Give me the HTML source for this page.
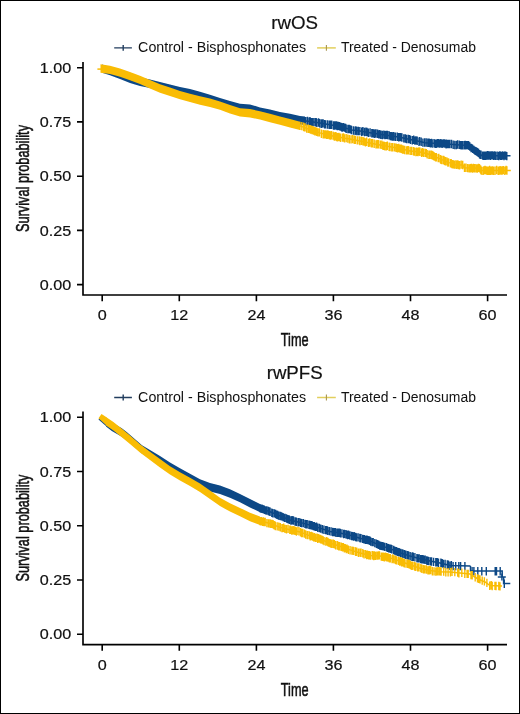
<!DOCTYPE html>
<html><head><meta charset="utf-8"><style>
html,body{margin:0;padding:0;background:#fff;}
svg{display:block;will-change:transform;}
text{font-family:"Liberation Sans",sans-serif;fill:#111;}
.tk{font-size:14.7px;stroke:#111;stroke-width:0.2px;}
.ax{font-size:18.6px;stroke:#111;stroke-width:0.55px;}
.ti{font-size:18.7px;stroke:#111;stroke-width:0.2px;}
.lg{font-size:14.25px;}
.lg2{font-size:13.95px;}
</style></head><body>
<svg width="520" height="714" viewBox="0 0 520 714">
<rect x="0" y="0" width="520" height="714" fill="#fff"/>
<path d="M102 64.4 L110 66.9 L120 70.6 L130 74.6 L140 77.6 L150 79.5 L160 81.9 L170 84.5 L180 87.1 L190 88.9 L200 91.8 L210 94.7 L220 98 L230 101.1 L240 103.7 L250 104.4 L260 107.4 L270 109.6 L280 111.9 L290 113.7 L300 116 L305 116.6 L305 125 L300 124.4 L290 122.1 L280 120.3 L270 118 L260 115.8 L250 112.8 L240 112.1 L230 109.5 L220 106.4 L210 103.1 L200 100.2 L190 97.3 L180 95.5 L170 92.9 L160 90.3 L150 87.9 L140 86 L130 83 L120 79 L110 75.3 L102 72.8Z" fill="#0c4886"/>
<path d="M304 120.7 L310 121.5 L320 123.1 L330 124.8 L339 126.2 L340 126.5 L350 129.4 L352 130 L360 131.1 L370 132.7 L375 133.5 L380 134.3 L390 135.8 L400 137.3 L410 139.4 L420 141.6 L425 142.7 L430 143.1 L440 143.6 L448 144 L450 144.2 L460 145 L468 145.3 L482 155.7 L510.5 155.7" stroke="#0c4886" stroke-width="1.5" fill="none"/>
<path d="M304.3 117h1.4v8.4h-1.4zM305.1 117.1h1.4v8.4h-1.4zM306.8 116.8h1.4v8.4h-1.4zM308.4 117.5h1.4v8.4h-1.4zM309.3 117.1h1.4v8.4h-1.4zM310.5 117.9h1.4v8.4h-1.4zM311.7 117.9h1.4v8.4h-1.4zM313.2 117.9h1.4v8.4h-1.4zM314.8 118h1.4v8.4h-1.4zM315.5 117.9h1.4v8.4h-1.4zM316.2 118.7h1.4v8.4h-1.4zM317.9 118.3h1.4v8.4h-1.4zM319 119.1h1.4v8.4h-1.4zM320.6 119.5h1.4v8.4h-1.4zM321.2 119.3h1.4v8.4h-1.4zM322.4 119.2h1.4v8.4h-1.4zM323.9 120h1.4v8.4h-1.4zM324.8 120.2h1.4v8.4h-1.4zM326.7 120.3h1.4v8.4h-1.4zM328.4 120.5h1.4v8.4h-1.4zM329.1 120.5h1.4v8.4h-1.4zM329.7 120.5h1.4v8.4h-1.4zM331 120.6h1.4v8.4h-1.4zM332.8 121.3h1.4v8.4h-1.4zM333.9 121.3h1.4v8.4h-1.4zM334.8 121.2h1.4v8.4h-1.4zM336 121.3h1.4v8.4h-1.4zM336.6 121.9h1.4v8.4h-1.4zM337.5 121.7h1.4v8.4h-1.4zM338.7 122.1h1.4v8.4h-1.4zM340 122.4h1.4v8.4h-1.4zM340.9 123.1h1.4v8.4h-1.4zM341.8 123.3h1.4v8.4h-1.4zM342.7 122.9h1.4v8.4h-1.4zM343.9 123.4h1.4v8.4h-1.4zM344.9 123.8h1.4v8.4h-1.4zM345.5 124.5h1.4v8.4h-1.4zM347.2 124.8h1.4v8.4h-1.4zM348.5 124.8h1.4v8.4h-1.4zM349.9 125.2h1.4v8.4h-1.4zM350.8 125.8h1.4v8.4h-1.4zM352.7 126.3h1.4v8.4h-1.4zM354.4 126.6h1.4v8.4h-1.4zM355.1 126.2h1.4v8.4h-1.4zM356.2 126.8h1.4v8.4h-1.4zM357.7 126.8h1.4v8.4h-1.4zM359.2 126.9h1.4v8.4h-1.4zM361 127.6h1.4v8.4h-1.4zM362.2 127.1h1.4v8.4h-1.4zM363.8 127.8h1.4v8.4h-1.4zM365.3 127.5h1.4v8.4h-1.4zM366.3 127.8h1.4v8.4h-1.4zM367.7 128.6h1.4v8.4h-1.4zM369.4 128.3h1.4v8.4h-1.4zM371.1 129h1.4v8.4h-1.4zM372.3 129.1h1.4v8.4h-1.4zM373.7 129.5h1.4v8.4h-1.4zM374.4 129.2h1.4v8.4h-1.4zM375.3 129.3h1.4v8.4h-1.4zM376.9 129.6h1.4v8.4h-1.4zM378.1 130.2h1.4v8.4h-1.4zM378.9 130.1h1.4v8.4h-1.4zM380.2 130.6h1.4v8.4h-1.4zM381.7 130.8h1.4v8.4h-1.4zM383.2 130.4h1.4v8.4h-1.4zM384.3 130.9h1.4v8.4h-1.4zM385.4 130.7h1.4v8.4h-1.4zM386.7 130.8h1.4v8.4h-1.4zM388.3 131.1h1.4v8.4h-1.4zM389.6 131.9h1.4v8.4h-1.4zM390.7 132h1.4v8.4h-1.4zM391.9 132.3h1.4v8.4h-1.4zM392.6 132h1.4v8.4h-1.4zM393.3 132.3h1.4v8.4h-1.4zM394.8 132.6h1.4v8.4h-1.4zM396.6 132.6h1.4v8.4h-1.4zM398 133h1.4v8.4h-1.4zM399.1 132.9h1.4v8.4h-1.4zM400 132.9h1.4v8.4h-1.4zM401.2 133.3h1.4v8.4h-1.4zM403.1 134.2h1.4v8.4h-1.4zM404.6 134.3h1.4v8.4h-1.4zM405.9 134.8h1.4v8.4h-1.4zM407.6 134.8h1.4v8.4h-1.4zM408.6 134.9h1.4v8.4h-1.4zM409.8 135.5h1.4v8.4h-1.4zM411.6 136h1.4v8.4h-1.4zM413 135.6h1.4v8.4h-1.4zM414.2 136.4h1.4v8.4h-1.4zM415.2 136.2h1.4v8.4h-1.4zM416.5 136.5h1.4v8.4h-1.4zM418.3 137.5h1.4v8.4h-1.4zM418.9 136.9h1.4v8.4h-1.4zM420.5 137.5h1.4v8.4h-1.4zM422.2 138.4h1.4v8.4h-1.4zM423.9 138.3h1.4v8.4h-1.4zM425.5 138.3h1.4v8.4h-1.4zM427.1 138.5h1.4v8.4h-1.4zM428.4 138.6h1.4v8.4h-1.4zM429.7 139.1h1.4v8.4h-1.4zM430.8 138.7h1.4v8.4h-1.4zM431.5 139.3h1.4v8.4h-1.4zM433.3 139h1.4v8.4h-1.4zM434.6 139.5h1.4v8.4h-1.4zM435.5 139.5h1.4v8.4h-1.4zM436.7 139.1h1.4v8.4h-1.4zM438 139.1h1.4v8.4h-1.4zM439 139.4h1.4v8.4h-1.4zM440.1 139.1h1.4v8.4h-1.4zM441.4 139.6h1.4v8.4h-1.4zM442.8 139.2h1.4v8.4h-1.4zM444.2 139.3h1.4v8.4h-1.4zM445.4 140.1h1.4v8.4h-1.4zM446 139.6h1.4v8.4h-1.4zM446.9 139.9h1.4v8.4h-1.4zM447.8 139.8h1.4v8.4h-1.4zM449.1 139.8h1.4v8.4h-1.4zM450.8 139.8h1.4v8.4h-1.4zM452.5 140.6h1.4v8.4h-1.4zM454.1 140.8h1.4v8.4h-1.4zM455.7 140.9h1.4v8.4h-1.4zM456.7 140.3h1.4v8.4h-1.4zM458.4 140.5h1.4v8.4h-1.4zM459.8 140.9h1.4v8.4h-1.4zM460.6 141.2h1.4v8.4h-1.4zM461.2 140.9h1.4v8.4h-1.4zM461.8 141h1.4v8.4h-1.4zM463.4 141.1h1.4v8.4h-1.4zM464.4 140.8h1.4v8.4h-1.4zM465.1 141.1h1.4v8.4h-1.4zM466.5 140.9h1.4v8.4h-1.4zM467.6 141.1h1.4v8.4h-1.4zM468.3 141.5h1.4v8.4h-1.4zM469.1 142.3h1.4v8.4h-1.4zM470.4 143.8h1.4v8.4h-1.4zM471.1 143.9h1.4v8.4h-1.4zM472 144.7h1.4v8.4h-1.4zM473.3 145.7h1.4v8.4h-1.4zM474.4 146.7h1.4v8.4h-1.4zM475.3 146.9h1.4v8.4h-1.4zM476.3 147.7h1.4v8.4h-1.4zM476.9 148.1h1.4v8.4h-1.4zM477.9 148.8h1.4v8.4h-1.4zM478.9 150h1.4v8.4h-1.4zM479.7 150.6h1.4v8.4h-1.4zM480.3 150.6h1.4v8.4h-1.4zM481.9 151.4h1.4v8.4h-1.4zM483 151.5h1.4v8.4h-1.4zM483.8 151.6h1.4v8.4h-1.4zM485 151.6h1.4v8.4h-1.4zM486.4 151.3h1.4v8.4h-1.4zM487 151.1h1.4v8.4h-1.4zM487.6 151.3h1.4v8.4h-1.4zM488.3 151.2h1.4v8.4h-1.4zM489.6 151.5h1.4v8.4h-1.4zM490.3 151.2h1.4v8.4h-1.4zM491.7 151.2h1.4v8.4h-1.4zM493 151.6h1.4v8.4h-1.4zM494.1 151.3h1.4v8.4h-1.4zM494.9 151.7h1.4v8.4h-1.4zM496.5 151.5h1.4v8.4h-1.4zM498 151.8h1.4v8.4h-1.4zM499.1 151.2h1.4v8.4h-1.4zM499.9 151.5h1.4v8.4h-1.4zM501.1 151.7h1.4v8.4h-1.4zM502.1 151.2h1.4v8.4h-1.4zM503.3 151.9h1.4v8.4h-1.4zM504.2 151.2h1.4v8.4h-1.4zM505.5 151.7h1.4v8.4h-1.4zM506.1 151.9h1.4v8.4h-1.4z" fill="#0c4886"/>
<path d="M97.4 69.1H102" stroke="#f9bc04" stroke-width="1.5"/>
<path d="M100.5 64.3 L110 65.7 L120 68.4 L130 71.9 L140 75.7 L150 80 L160 84.3 L170 87.5 L180 90.9 L190 93.7 L200 96.3 L210 98.5 L220 101.4 L230 105.1 L240 108.2 L250 109.1 L260 111.2 L270 113.8 L280 116.4 L290 119 L300 121.7 L300 130.1 L290 127.4 L280 124.8 L270 122.2 L260 119.6 L250 117.5 L240 116.6 L230 113.5 L220 109.8 L210 106.9 L200 104.7 L190 102.1 L180 99.3 L170 95.9 L160 92.7 L150 88.4 L140 84.1 L130 80.3 L120 76.8 L110 74.1 L100.5 72.7Z" fill="#f9bc04"/>
<path d="M299 125.6 L300 125.9 L310 129.6 L320 132.9 L325 134.3 L330 135.4 L340 137.3 L345 138.3 L350 139.1 L352 139.4 L360 140.9 L370 142.9 L375 144 L380 144.9 L390 146.7 L400 148.5 L410 150.9 L411 151.1 L420 151.9 L430 154.5 L440 158.9 L449 162.6 L450 162.9 L455 164.8 L463 165 L464 167.8 L480 168.2 L481 170.4 L510.8 170.4" stroke="#f9bc04" stroke-width="1.5" fill="none"/>
<path d="M299.3 121.7h1.4v8.4h-1.4zM301.1 121.9h1.4v8.4h-1.4zM302.9 122.6h1.4v8.4h-1.4zM303.6 123.2h1.4v8.4h-1.4zM304.4 123.2h1.4v8.4h-1.4zM306 124.4h1.4v8.4h-1.4zM307.6 124.5h1.4v8.4h-1.4zM309 124.9h1.4v8.4h-1.4zM310 125.3h1.4v8.4h-1.4zM311.4 125.8h1.4v8.4h-1.4zM312.8 126.3h1.4v8.4h-1.4zM314.2 127h1.4v8.4h-1.4zM315 127.2h1.4v8.4h-1.4zM316.1 127.5h1.4v8.4h-1.4zM317.3 128.2h1.4v8.4h-1.4zM318.8 128.2h1.4v8.4h-1.4zM320.7 129.5h1.4v8.4h-1.4zM322.5 130.1h1.4v8.4h-1.4zM323.8 130.2h1.4v8.4h-1.4zM325 130.2h1.4v8.4h-1.4zM325.9 130.5h1.4v8.4h-1.4zM326.6 130.7h1.4v8.4h-1.4zM327.2 130.3h1.4v8.4h-1.4zM328.5 130.9h1.4v8.4h-1.4zM329.5 131.3h1.4v8.4h-1.4zM330.6 131.1h1.4v8.4h-1.4zM332.3 131.4h1.4v8.4h-1.4zM333.6 132.3h1.4v8.4h-1.4zM334.9 132.1h1.4v8.4h-1.4zM335.8 132.5h1.4v8.4h-1.4zM336.5 133h1.4v8.4h-1.4zM337.5 132.9h1.4v8.4h-1.4zM338.3 132.7h1.4v8.4h-1.4zM339.6 133.6h1.4v8.4h-1.4zM341.5 133.4h1.4v8.4h-1.4zM342.9 133.3h1.4v8.4h-1.4zM343.8 134.2h1.4v8.4h-1.4zM345.5 133.9h1.4v8.4h-1.4zM347.1 134.4h1.4v8.4h-1.4zM348.7 135.1h1.4v8.4h-1.4zM350.4 135.2h1.4v8.4h-1.4zM352 134.9h1.4v8.4h-1.4zM353.6 135.6h1.4v8.4h-1.4zM354.7 135.7h1.4v8.4h-1.4zM356.6 136.2h1.4v8.4h-1.4zM358.4 136.2h1.4v8.4h-1.4zM359.2 136.8h1.4v8.4h-1.4zM360.8 136.6h1.4v8.4h-1.4zM362.3 137.1h1.4v8.4h-1.4zM363.5 137.4h1.4v8.4h-1.4zM364.8 138.2h1.4v8.4h-1.4zM366 137.6h1.4v8.4h-1.4zM367.8 138.7h1.4v8.4h-1.4zM369.1 138.3h1.4v8.4h-1.4zM370.7 139.1h1.4v8.4h-1.4zM371.8 139.1h1.4v8.4h-1.4zM373.5 139.6h1.4v8.4h-1.4zM375.3 140.2h1.4v8.4h-1.4zM376.5 140.1h1.4v8.4h-1.4zM377.8 140.1h1.4v8.4h-1.4zM379.6 140.4h1.4v8.4h-1.4zM381.1 140.6h1.4v8.4h-1.4zM382.3 141.6h1.4v8.4h-1.4zM383.2 141.6h1.4v8.4h-1.4zM384.3 142.1h1.4v8.4h-1.4zM385.8 142.1h1.4v8.4h-1.4zM386.6 141.5h1.4v8.4h-1.4zM388.4 142.5h1.4v8.4h-1.4zM389.3 142.8h1.4v8.4h-1.4zM391.1 143h1.4v8.4h-1.4zM392.1 143h1.4v8.4h-1.4zM393.9 143.2h1.4v8.4h-1.4zM395.4 143.6h1.4v8.4h-1.4zM396.7 144.1h1.4v8.4h-1.4zM398 143.8h1.4v8.4h-1.4zM399.4 144.4h1.4v8.4h-1.4zM400.8 144.6h1.4v8.4h-1.4zM401.8 145.3h1.4v8.4h-1.4zM402.7 145.4h1.4v8.4h-1.4zM403.9 145.8h1.4v8.4h-1.4zM405.7 146.2h1.4v8.4h-1.4zM407.1 146h1.4v8.4h-1.4zM407.8 146.1h1.4v8.4h-1.4zM409.5 146.7h1.4v8.4h-1.4zM411 146.7h1.4v8.4h-1.4zM412.8 147h1.4v8.4h-1.4zM413.6 147.4h1.4v8.4h-1.4zM415.2 147.8h1.4v8.4h-1.4zM415.9 147.5h1.4v8.4h-1.4zM417.3 147.8h1.4v8.4h-1.4zM418.3 147.2h1.4v8.4h-1.4zM419.2 147.5h1.4v8.4h-1.4zM420.9 148.6h1.4v8.4h-1.4zM421.7 148h1.4v8.4h-1.4zM423 148.6h1.4v8.4h-1.4zM424.7 148.7h1.4v8.4h-1.4zM425.6 148.9h1.4v8.4h-1.4zM426.5 150h1.4v8.4h-1.4zM428.2 150.5h1.4v8.4h-1.4zM429.4 150.5h1.4v8.4h-1.4zM430.9 150.6h1.4v8.4h-1.4zM431.5 151.1h1.4v8.4h-1.4zM432.6 151.5h1.4v8.4h-1.4zM433.5 152.3h1.4v8.4h-1.4zM434.9 153h1.4v8.4h-1.4zM435.7 153h1.4v8.4h-1.4zM437.5 153.9h1.4v8.4h-1.4zM438.1 153.8h1.4v8.4h-1.4zM439.7 154.9h1.4v8.4h-1.4zM440.3 155.6h1.4v8.4h-1.4zM441.3 155.8h1.4v8.4h-1.4zM442.9 155.8h1.4v8.4h-1.4zM443.7 156.5h1.4v8.4h-1.4zM444.6 157.1h1.4v8.4h-1.4zM446.1 157.2h1.4v8.4h-1.4zM447.2 158.3h1.4v8.4h-1.4zM447.9 158.2h1.4v8.4h-1.4zM449.7 159.1h1.4v8.4h-1.4zM450.5 159.1h1.4v8.4h-1.4zM451.2 159.9h1.4v8.4h-1.4zM452.3 160.1h1.4v8.4h-1.4zM453.7 160.4h1.4v8.4h-1.4zM455.2 160.3h1.4v8.4h-1.4zM456 160.6h1.4v8.4h-1.4zM457 160.2h1.4v8.4h-1.4zM457.7 160.8h1.4v8.4h-1.4zM458.9 161.1h1.4v8.4h-1.4zM460.5 160.4h1.4v8.4h-1.4zM462 160.8h1.4v8.4h-1.4zM463.8 163.6h1.4v8.4h-1.4zM465.3 163.6h1.4v8.4h-1.4zM467 163.9h1.4v8.4h-1.4zM468.5 164.2h1.4v8.4h-1.4zM469.8 164h1.4v8.4h-1.4zM470.6 163.8h1.4v8.4h-1.4zM471.8 164.3h1.4v8.4h-1.4zM472.7 163.7h1.4v8.4h-1.4zM473.4 164.1h1.4v8.4h-1.4zM474.4 164h1.4v8.4h-1.4zM475.9 164.2h1.4v8.4h-1.4zM476.6 164.3h1.4v8.4h-1.4zM477.8 163.7h1.4v8.4h-1.4zM478.8 164.1h1.4v8.4h-1.4zM479.9 165.3h1.4v8.4h-1.4zM480.6 166.4h1.4v8.4h-1.4zM482.2 166.7h1.4v8.4h-1.4zM483.1 166.3h1.4v8.4h-1.4zM484.3 165.7h1.4v8.4h-1.4zM485.3 166.2h1.4v8.4h-1.4zM485.9 166.4h1.4v8.4h-1.4zM487 166.6h1.4v8.4h-1.4zM487.7 166.4h1.4v8.4h-1.4zM488.4 166.5h1.4v8.4h-1.4zM488.9 165.7h1.4v8.4h-1.4zM489.7 166.6h1.4v8.4h-1.4zM490.3 166.4h1.4v8.4h-1.4zM491.6 166.3h1.4v8.4h-1.4zM492.7 166.6h1.4v8.4h-1.4zM494.3 166.6h1.4v8.4h-1.4zM495.9 165.8h1.4v8.4h-1.4zM497.5 166.5h1.4v8.4h-1.4zM498.3 166.5h1.4v8.4h-1.4zM499.4 165.9h1.4v8.4h-1.4zM500.2 166.4h1.4v8.4h-1.4zM501.4 166.3h1.4v8.4h-1.4zM502.6 165.9h1.4v8.4h-1.4zM504.1 166.5h1.4v8.4h-1.4zM505.4 165.8h1.4v8.4h-1.4zM506.2 166.3h1.4v8.4h-1.4z" fill="#f9bc04"/>
<path d="M83 62V295.8M82.2 295H507" stroke="#000" stroke-width="1.65" fill="none"/>
<path d="M77 67.7H83M77 121.9H83M77 176.2H83M77 230.4H83M77 284.6H83M102.2 295V301.2M179.3 295V301.2M256.4 295V301.2M333.4 295V301.2M410.5 295V301.2M487.6 295V301.2" stroke="#000" stroke-width="1.6" fill="none"/>
<text class="tk" text-anchor="end" transform="translate(71.3 72.8) scale(1.1 1)">1.00</text>
<text class="tk" text-anchor="end" transform="translate(71.3 127) scale(1.1 1)">0.75</text>
<text class="tk" text-anchor="end" transform="translate(71.3 181.3) scale(1.1 1)">0.50</text>
<text class="tk" text-anchor="end" transform="translate(71.3 235.5) scale(1.1 1)">0.25</text>
<text class="tk" text-anchor="end" transform="translate(71.3 289.7) scale(1.1 1)">0.00</text>
<text class="tk" text-anchor="middle" transform="translate(102.2 320.4) scale(1.1 1)">0</text>
<text class="tk" text-anchor="middle" transform="translate(179.3 320.4) scale(1.1 1)">12</text>
<text class="tk" text-anchor="middle" transform="translate(256.4 320.4) scale(1.1 1)">24</text>
<text class="tk" text-anchor="middle" transform="translate(333.4 320.4) scale(1.1 1)">36</text>
<text class="tk" text-anchor="middle" transform="translate(410.5 320.4) scale(1.1 1)">48</text>
<text class="tk" text-anchor="middle" transform="translate(487.6 320.4) scale(1.1 1)">60</text>
<text class="ax" text-anchor="middle" transform="translate(294.7 346.1) scale(0.685 1)">Time</text>
<text class="ax" text-anchor="middle" transform="translate(29.3 178.5) rotate(-90) scale(0.686 1)">Survival probability</text>
<text class="ti" x="294.7" y="29" text-anchor="middle">rwOS</text>
<path d="M114.2 47.9H131.9M123.2 45V50.8" stroke="#223d5e" stroke-width="1.4" fill="none"/>
<path d="M317.1 47.9H335.8" stroke="#e2cf5c" stroke-width="1.5" fill="none"/><path d="M326.4 45V50.8" stroke="#a99650" stroke-width="1.1" fill="none"/>
<text class="lg" x="138.1" y="52.4">Control - Bisphosphonates</text>
<text class="lg2" x="340.9" y="52.4">Treated - Denosumab</text>
<path d="M106 418 L111.8 422.6 L121.8 428.3 L127 432.2 L142 445.2 L150 449.9 L160 456.1 L170 462.6 L180 468.3 L190 473.8 L200 479.3 L210 483 L220 485.6 L230 489.3 L240 493.9 L250 499 L260 503.9 L260 512.3 L250 507.4 L240 502.3 L230 497.7 L220 494 L210 491.4 L200 487.7 L190 482.2 L180 476.7 L170 471 L160 464.5 L150 458.3 L142 453.6 L127 440.6 L121.8 436.7 L111.8 431 L106 426.4Z" fill="#0c4886"/>
<path d="M259 507.6 L260 508.1 L270 511.8 L280 515.9 L290 520 L300 522.4 L310 525.1 L320 528.1 L330 531.5 L340 533 L350 535.3 L360 538.2 L370 540.9 L380 545.5 L390 548.6 L400 552.7 L410 556.1 L420 558.7 L430 561.1 L440 562.9 L450 565.5 L470.5 566.1" stroke="#0c4886" stroke-width="1.5" fill="none"/>
<path d="M259.3 503.9h1.4v8.4h-1.4zM260.1 504.4h1.4v8.4h-1.4zM261.3 504.5h1.4v8.4h-1.4zM262.3 504.9h1.4v8.4h-1.4zM263.6 505.6h1.4v8.4h-1.4zM264.9 506.2h1.4v8.4h-1.4zM265.6 506.2h1.4v8.4h-1.4zM266.2 506.3h1.4v8.4h-1.4zM267.7 506.8h1.4v8.4h-1.4zM268.6 507.3h1.4v8.4h-1.4zM269.4 507.5h1.4v8.4h-1.4zM271.1 508.5h1.4v8.4h-1.4zM272.2 509h1.4v8.4h-1.4zM273.8 509.2h1.4v8.4h-1.4zM274.9 509.8h1.4v8.4h-1.4zM276.2 510.6h1.4v8.4h-1.4zM277 510.8h1.4v8.4h-1.4zM278.3 511.5h1.4v8.4h-1.4zM279.8 511.8h1.4v8.4h-1.4zM281 512.2h1.4v8.4h-1.4zM282.4 512.9h1.4v8.4h-1.4zM283.8 513.7h1.4v8.4h-1.4zM284.4 513.7h1.4v8.4h-1.4zM285.9 514.3h1.4v8.4h-1.4zM287.1 514.9h1.4v8.4h-1.4zM288.1 515.2h1.4v8.4h-1.4zM288.7 515.5h1.4v8.4h-1.4zM290.2 516.3h1.4v8.4h-1.4zM291.4 516.1h1.4v8.4h-1.4zM292.8 516.3h1.4v8.4h-1.4zM294.4 517.3h1.4v8.4h-1.4zM295.7 517.6h1.4v8.4h-1.4zM297.4 518h1.4v8.4h-1.4zM298.4 517.9h1.4v8.4h-1.4zM299.9 518.6h1.4v8.4h-1.4zM301 518.9h1.4v8.4h-1.4zM302.6 518.9h1.4v8.4h-1.4zM304.2 519.7h1.4v8.4h-1.4zM304.9 519.9h1.4v8.4h-1.4zM305.6 520h1.4v8.4h-1.4zM306.5 520.1h1.4v8.4h-1.4zM308.2 520.5h1.4v8.4h-1.4zM309.2 520.8h1.4v8.4h-1.4zM310.5 521.1h1.4v8.4h-1.4zM311.5 521.3h1.4v8.4h-1.4zM312.6 521.9h1.4v8.4h-1.4zM313.6 522.1h1.4v8.4h-1.4zM314.6 522.7h1.4v8.4h-1.4zM315.9 522.6h1.4v8.4h-1.4zM317.1 523.5h1.4v8.4h-1.4zM318.7 523.8h1.4v8.4h-1.4zM320.1 524.4h1.4v8.4h-1.4zM321.7 525h1.4v8.4h-1.4zM323.3 525.5h1.4v8.4h-1.4zM325 525.9h1.4v8.4h-1.4zM326.3 526h1.4v8.4h-1.4zM327.1 526.7h1.4v8.4h-1.4zM328.7 526.9h1.4v8.4h-1.4zM330.4 527.3h1.4v8.4h-1.4zM332 527.8h1.4v8.4h-1.4zM333.2 527.9h1.4v8.4h-1.4zM334.6 528h1.4v8.4h-1.4zM335.4 528.5h1.4v8.4h-1.4zM336.9 528.5h1.4v8.4h-1.4zM338.2 528.5h1.4v8.4h-1.4zM339.1 528.6h1.4v8.4h-1.4zM339.7 529.1h1.4v8.4h-1.4zM341.3 529.2h1.4v8.4h-1.4zM343 529.8h1.4v8.4h-1.4zM343.7 529.7h1.4v8.4h-1.4zM345.2 530h1.4v8.4h-1.4zM346.2 530.4h1.4v8.4h-1.4zM347 530.8h1.4v8.4h-1.4zM347.9 530.6h1.4v8.4h-1.4zM349.3 531.3h1.4v8.4h-1.4zM350.9 531.8h1.4v8.4h-1.4zM351.5 531.9h1.4v8.4h-1.4zM352.8 532.3h1.4v8.4h-1.4zM353.5 532h1.4v8.4h-1.4zM354.9 532.8h1.4v8.4h-1.4zM355.8 533.2h1.4v8.4h-1.4zM357.4 533.2h1.4v8.4h-1.4zM359.1 533.8h1.4v8.4h-1.4zM360.3 534.1h1.4v8.4h-1.4zM362 534.7h1.4v8.4h-1.4zM362.9 534.9h1.4v8.4h-1.4zM363.6 535.1h1.4v8.4h-1.4zM364.8 535.7h1.4v8.4h-1.4zM365.4 535.4h1.4v8.4h-1.4zM366.3 535.6h1.4v8.4h-1.4zM367.3 535.9h1.4v8.4h-1.4zM368.6 536.3h1.4v8.4h-1.4zM369.3 536.5h1.4v8.4h-1.4zM370 537.3h1.4v8.4h-1.4zM371.5 537.9h1.4v8.4h-1.4zM372.5 537.9h1.4v8.4h-1.4zM374.1 538.9h1.4v8.4h-1.4zM375.7 539.6h1.4v8.4h-1.4zM376.8 540h1.4v8.4h-1.4zM377.9 540.5h1.4v8.4h-1.4zM379 541.3h1.4v8.4h-1.4zM380.3 541.7h1.4v8.4h-1.4zM381.6 541.9h1.4v8.4h-1.4zM382.8 542.2h1.4v8.4h-1.4zM384.1 542.7h1.4v8.4h-1.4zM385.8 543.1h1.4v8.4h-1.4zM386.9 543.7h1.4v8.4h-1.4zM388 544.1h1.4v8.4h-1.4zM389.4 544.4h1.4v8.4h-1.4zM390.2 544.5h1.4v8.4h-1.4zM391.2 545h1.4v8.4h-1.4zM392.9 545.8h1.4v8.4h-1.4zM394 546.4h1.4v8.4h-1.4zM395.3 547h1.4v8.4h-1.4zM395.8 547h1.4v8.4h-1.4zM396.9 547.7h1.4v8.4h-1.4zM398.1 548.1h1.4v8.4h-1.4zM398.7 548.2h1.4v8.4h-1.4zM400 548.7h1.4v8.4h-1.4zM401.5 549.3h1.4v8.4h-1.4zM402.3 549.6h1.4v8.4h-1.4zM403.8 550h1.4v8.4h-1.4zM405.1 550.6h1.4v8.4h-1.4zM406.7 551h1.4v8.4h-1.4zM407.9 551.3h1.4v8.4h-1.4zM409.5 552h1.4v8.4h-1.4zM411.2 552.5h1.4v8.4h-1.4zM411.9 552.3h1.4v8.4h-1.4zM412.6 552.7h1.4v8.4h-1.4zM414.2 553.1h1.4v8.4h-1.4zM416.2 553.9h1.4v8.4h-1.4zM417.2 554.2h1.4v8.4h-1.4zM418.5 554.2h1.4v8.4h-1.4zM420 554.9h1.4v8.4h-1.4zM421.1 555.1h1.4v8.4h-1.4zM422.2 555.1h1.4v8.4h-1.4zM423.3 555.4h1.4v8.4h-1.4zM424.5 555.5h1.4v8.4h-1.4zM426 556.3h1.4v8.4h-1.4zM427.1 556.5h1.4v8.4h-1.4zM428.3 556.9h1.4v8.4h-1.4zM430 557.2h1.4v8.4h-1.4zM430.9 557.3h1.4v8.4h-1.4zM432.9 557.7h1.4v8.4h-1.4zM435.1 558h1.4v8.4h-1.4zM436.5 558h1.4v8.4h-1.4zM437.8 558.5h1.4v8.4h-1.4zM440.2 558.6h1.4v8.4h-1.4zM441.5 559.1h1.4v8.4h-1.4zM442.7 559.8h1.4v8.4h-1.4zM444.4 559.8h1.4v8.4h-1.4zM446.6 560.3h1.4v8.4h-1.4zM447.7 560.6h1.4v8.4h-1.4zM449.2 561.5h1.4v8.4h-1.4zM450.7 561.1h1.4v8.4h-1.4z" fill="#0c4886"/>
<path d="M470.5 566.1V571H502.2V576.9H503.6V583.6H510.3M497.8 576.9H505.8" stroke="#0c4886" stroke-width="1.5" fill="none"/><path d="M452.4 561.9h1.4v8.4h-1.4zM455 561.9h1.4v8.4h-1.4zM458.1 561.9h1.4v8.4h-1.4zM459.9 561.9h1.4v8.4h-1.4zM464.2 561.9h1.4v8.4h-1.4zM471.4 567h1.4v8.4h-1.4zM473.2 567h1.4v8.4h-1.4zM477.1 567h1.4v8.4h-1.4zM481.1 567h1.4v8.4h-1.4zM485.6 567h1.4v8.4h-1.4zM494.5 567h1.4v8.4h-1.4zM495.8 567h1.4v8.4h-1.4zM499.5 567h1.4v8.4h-1.4zM501.2 573.4h1.4v7h-1.4zM503.6 579.5h1.4v8.4h-1.4z" fill="#0c4886"/>
<path d="M98.5 419.5L101.5 415.2L106.5 418.3L106.5 426.6Z" fill="#0c4886"/>
<path d="M98.5 418.3L101.5 413.9L106.5 417.2L106.5 425.6Z" fill="#f9bc04"/>
<path d="M106 417 L113.4 422 L120 427.3 L130 435.5 L140 444.2 L150 451.7 L160 459.1 L170 466.2 L180 472.2 L190 477.7 L200 483.6 L210 490.6 L220 497.7 L230 503.2 L240 507.9 L250 512.8 L260 516.6 L260 525 L250 521.2 L240 516.3 L230 511.6 L220 506.1 L210 499 L200 492 L190 486.1 L180 480.6 L170 474.6 L160 467.5 L150 460.1 L140 452.6 L130 443.9 L120 435.7 L113.4 430.4 L106 425.4Z" fill="#f9bc04"/>
<path d="M259 520.4 L260 520.8 L270 523.5 L280 527.4 L290 529.8 L300 531.9 L310 535.9 L320 539 L330 543.1 L340 546.2 L350 549.9 L360 553 L370 555.5 L380 555.9 L390 557.9 L400 561.3 L410 564.7 L420 568.3 L430 570.4 L440 571.7 L450 571.9 L470 574 L478 579 L485 582 L490 585.5 L502 586" stroke="#f9bc04" stroke-width="1.5" fill="none"/>
<path d="M259.3 516.9h1.4v8.4h-1.4zM260.2 517.2h1.4v8.4h-1.4zM260.9 517.1h1.4v8.4h-1.4zM262 517.7h1.4v8.4h-1.4zM262.8 517.2h1.4v8.4h-1.4zM263.4 517.9h1.4v8.4h-1.4zM264.5 517.8h1.4v8.4h-1.4zM266.2 518.9h1.4v8.4h-1.4zM267.8 519.2h1.4v8.4h-1.4zM269.3 519.3h1.4v8.4h-1.4zM270.2 519.7h1.4v8.4h-1.4zM271.4 519.7h1.4v8.4h-1.4zM272.4 520h1.4v8.4h-1.4zM273.2 520.9h1.4v8.4h-1.4zM273.9 521.1h1.4v8.4h-1.4zM274.7 521.8h1.4v8.4h-1.4zM276.5 522.2h1.4v8.4h-1.4zM278.1 522.4h1.4v8.4h-1.4zM279.6 523.1h1.4v8.4h-1.4zM281.2 523.9h1.4v8.4h-1.4zM282 523.9h1.4v8.4h-1.4zM283 523.6h1.4v8.4h-1.4zM284.3 524.7h1.4v8.4h-1.4zM285.8 525.1h1.4v8.4h-1.4zM287.4 524.7h1.4v8.4h-1.4zM289.1 525.6h1.4v8.4h-1.4zM289.8 525.6h1.4v8.4h-1.4zM291.1 526.3h1.4v8.4h-1.4zM292.5 526.1h1.4v8.4h-1.4zM293.7 526.3h1.4v8.4h-1.4zM294.6 526.7h1.4v8.4h-1.4zM295.7 527.4h1.4v8.4h-1.4zM296.4 526.7h1.4v8.4h-1.4zM298.2 527.1h1.4v8.4h-1.4zM299.8 528h1.4v8.4h-1.4zM301 528.8h1.4v8.4h-1.4zM302 528.8h1.4v8.4h-1.4zM303.7 529.4h1.4v8.4h-1.4zM305 530.3h1.4v8.4h-1.4zM306.6 530.9h1.4v8.4h-1.4zM308.3 530.9h1.4v8.4h-1.4zM309.5 532.1h1.4v8.4h-1.4zM310.6 531.8h1.4v8.4h-1.4zM311.9 532.3h1.4v8.4h-1.4zM313 533.2h1.4v8.4h-1.4zM313.8 533h1.4v8.4h-1.4zM314.8 533.7h1.4v8.4h-1.4zM316.3 533.5h1.4v8.4h-1.4zM317 534.5h1.4v8.4h-1.4zM317.6 534h1.4v8.4h-1.4zM319 534.4h1.4v8.4h-1.4zM319.9 535.1h1.4v8.4h-1.4zM321.2 535.4h1.4v8.4h-1.4zM322.3 536.1h1.4v8.4h-1.4zM323.4 536.9h1.4v8.4h-1.4zM325.1 537.4h1.4v8.4h-1.4zM326 537h1.4v8.4h-1.4zM327.1 537.8h1.4v8.4h-1.4zM327.9 538.4h1.4v8.4h-1.4zM329.3 538.9h1.4v8.4h-1.4zM330.2 539.4h1.4v8.4h-1.4zM331.2 539.5h1.4v8.4h-1.4zM332.7 539.5h1.4v8.4h-1.4zM333.7 540h1.4v8.4h-1.4zM335 541h1.4v8.4h-1.4zM336.7 541h1.4v8.4h-1.4zM337.4 541.7h1.4v8.4h-1.4zM338.1 542.1h1.4v8.4h-1.4zM338.9 542h1.4v8.4h-1.4zM340.5 542.6h1.4v8.4h-1.4zM341.8 543h1.4v8.4h-1.4zM342.7 543.1h1.4v8.4h-1.4zM343.7 544h1.4v8.4h-1.4zM344.5 543.9h1.4v8.4h-1.4zM345.7 544.8h1.4v8.4h-1.4zM346.3 544.4h1.4v8.4h-1.4zM347.7 545.5h1.4v8.4h-1.4zM349.4 546h1.4v8.4h-1.4zM351.2 546.4h1.4v8.4h-1.4zM352.6 546.7h1.4v8.4h-1.4zM354.4 546.9h1.4v8.4h-1.4zM355 547.7h1.4v8.4h-1.4zM356 547.6h1.4v8.4h-1.4zM357.7 548.5h1.4v8.4h-1.4zM359.3 548.4h1.4v8.4h-1.4zM360.3 548.6h1.4v8.4h-1.4zM362.1 549.1h1.4v8.4h-1.4zM363.4 550.1h1.4v8.4h-1.4zM365 549.9h1.4v8.4h-1.4zM366 550.9h1.4v8.4h-1.4zM366.8 550.5h1.4v8.4h-1.4zM367.9 551h1.4v8.4h-1.4zM368.7 551h1.4v8.4h-1.4zM369.7 551.4h1.4v8.4h-1.4zM371.5 551h1.4v8.4h-1.4zM372.5 551.3h1.4v8.4h-1.4zM373.1 551.9h1.4v8.4h-1.4zM373.8 551.2h1.4v8.4h-1.4zM374.6 551.7h1.4v8.4h-1.4zM376.1 551.4h1.4v8.4h-1.4zM377.1 551.4h1.4v8.4h-1.4zM378.1 551.2h1.4v8.4h-1.4zM378.8 551.2h1.4v8.4h-1.4zM380.6 552.4h1.4v8.4h-1.4zM381.7 552.5h1.4v8.4h-1.4zM382.5 552.6h1.4v8.4h-1.4zM383.2 552.8h1.4v8.4h-1.4zM383.9 553.1h1.4v8.4h-1.4zM384.7 552.4h1.4v8.4h-1.4zM386.1 553.1h1.4v8.4h-1.4zM386.9 553.2h1.4v8.4h-1.4zM387.5 553.4h1.4v8.4h-1.4zM388.7 554h1.4v8.4h-1.4zM389.6 554.1h1.4v8.4h-1.4zM391.4 554.9h1.4v8.4h-1.4zM392.1 554.3h1.4v8.4h-1.4zM393.4 555.2h1.4v8.4h-1.4zM394.9 555.8h1.4v8.4h-1.4zM396 556.2h1.4v8.4h-1.4zM397.8 556.7h1.4v8.4h-1.4zM399 557.3h1.4v8.4h-1.4zM399.9 557.1h1.4v8.4h-1.4zM400.9 558.1h1.4v8.4h-1.4zM401.6 557.8h1.4v8.4h-1.4zM402.7 558.4h1.4v8.4h-1.4zM403.6 559h1.4v8.4h-1.4zM405.3 559.3h1.4v8.4h-1.4zM406.9 559.5h1.4v8.4h-1.4zM408.1 559.8h1.4v8.4h-1.4zM408.7 560.1h1.4v8.4h-1.4zM409.6 560.7h1.4v8.4h-1.4zM410.5 561.4h1.4v8.4h-1.4zM411.3 561.6h1.4v8.4h-1.4zM412.2 561.4h1.4v8.4h-1.4zM413.9 562h1.4v8.4h-1.4zM414.6 562.7h1.4v8.4h-1.4zM415.3 562.4h1.4v8.4h-1.4zM417 563.2h1.4v8.4h-1.4zM418.3 563.2h1.4v8.4h-1.4zM420.1 563.9h1.4v8.4h-1.4zM421.2 564.5h1.4v8.4h-1.4zM422.8 565h1.4v8.4h-1.4zM424.2 565.2h1.4v8.4h-1.4zM425.8 565.3h1.4v8.4h-1.4zM427.3 566.2h1.4v8.4h-1.4zM428.5 566.1h1.4v8.4h-1.4zM429.2 565.8h1.4v8.4h-1.4zM430 565.9h1.4v8.4h-1.4zM431.7 567h1.4v8.4h-1.4zM433.4 567.2h1.4v8.4h-1.4zM435.1 567.4h1.4v8.4h-1.4zM436.1 567.2h1.4v8.4h-1.4zM437.5 567.1h1.4v8.4h-1.4zM439 567.1h1.4v8.4h-1.4zM440.4 567.3h1.4v8.4h-1.4zM443 567.3h1.4v8.4h-1.4zM445.1 568h1.4v8.4h-1.4zM447.4 568.1h1.4v8.4h-1.4zM449.7 568h1.4v8.4h-1.4zM451.3 567.6h1.4v8.4h-1.4zM454.1 567.9h1.4v8.4h-1.4zM457 568.3h1.4v8.4h-1.4zM458.2 569.1h1.4v8.4h-1.4zM461.1 568.6h1.4v8.4h-1.4zM464.1 569.5h1.4v8.4h-1.4zM466.4 569.7h1.4v8.4h-1.4zM467.5 569.7h1.4v8.4h-1.4zM470.3 570.9h1.4v8.4h-1.4zM471.5 571h1.4v8.4h-1.4zM474.5 573.1h1.4v8.4h-1.4zM476.8 574.2h1.4v8.4h-1.4zM477.9 574.7h1.4v8.4h-1.4zM479.3 575.2h1.4v8.4h-1.4zM481.5 576.4h1.4v8.4h-1.4zM483.7 577.2h1.4v8.4h-1.4zM486.2 578.7h1.4v8.4h-1.4zM489 581.6h1.4v8.4h-1.4zM490.5 581.1h1.4v8.4h-1.4zM491.5 581.8h1.4v8.4h-1.4zM494.3 581.7h1.4v8.4h-1.4zM495.3 581.8h1.4v8.4h-1.4zM498.1 581.8h1.4v8.4h-1.4zM499.3 582.2h1.4v8.4h-1.4z" fill="#f9bc04"/>
<path d="M83 411.6V645.4M82.2 644.6H507" stroke="#000" stroke-width="1.65" fill="none"/>
<path d="M77 417.3H83M77 471.5H83M77 525.8H83M77 580H83M77 634.2H83M102.2 644.6V650.8M179.3 644.6V650.8M256.4 644.6V650.8M333.4 644.6V650.8M410.5 644.6V650.8M487.6 644.6V650.8" stroke="#000" stroke-width="1.6" fill="none"/>
<text class="tk" text-anchor="end" transform="translate(71.3 422.4) scale(1.1 1)">1.00</text>
<text class="tk" text-anchor="end" transform="translate(71.3 476.6) scale(1.1 1)">0.75</text>
<text class="tk" text-anchor="end" transform="translate(71.3 530.9) scale(1.1 1)">0.50</text>
<text class="tk" text-anchor="end" transform="translate(71.3 585.1) scale(1.1 1)">0.25</text>
<text class="tk" text-anchor="end" transform="translate(71.3 639.3) scale(1.1 1)">0.00</text>
<text class="tk" text-anchor="middle" transform="translate(102.2 670) scale(1.1 1)">0</text>
<text class="tk" text-anchor="middle" transform="translate(179.3 670) scale(1.1 1)">12</text>
<text class="tk" text-anchor="middle" transform="translate(256.4 670) scale(1.1 1)">24</text>
<text class="tk" text-anchor="middle" transform="translate(333.4 670) scale(1.1 1)">36</text>
<text class="tk" text-anchor="middle" transform="translate(410.5 670) scale(1.1 1)">48</text>
<text class="tk" text-anchor="middle" transform="translate(487.6 670) scale(1.1 1)">60</text>
<text class="ax" text-anchor="middle" transform="translate(294.7 695.7) scale(0.685 1)">Time</text>
<text class="ax" text-anchor="middle" transform="translate(29.3 528.1) rotate(-90) scale(0.686 1)">Survival probability</text>
<text class="ti" x="294.7" y="378.6" text-anchor="middle">rwPFS</text>
<path d="M114.2 397.5H131.9M123.2 394.6V400.4" stroke="#223d5e" stroke-width="1.4" fill="none"/>
<path d="M317.1 397.5H335.8" stroke="#e2cf5c" stroke-width="1.5" fill="none"/><path d="M326.4 394.6V400.4" stroke="#a99650" stroke-width="1.1" fill="none"/>
<text class="lg" x="138.1" y="402">Control - Bisphosphonates</text>
<text class="lg2" x="340.9" y="402">Treated - Denosumab</text>
<rect x="0.5" y="0.5" width="519" height="713" fill="none" stroke="#000" stroke-width="1"/>
</svg>
</body></html>
